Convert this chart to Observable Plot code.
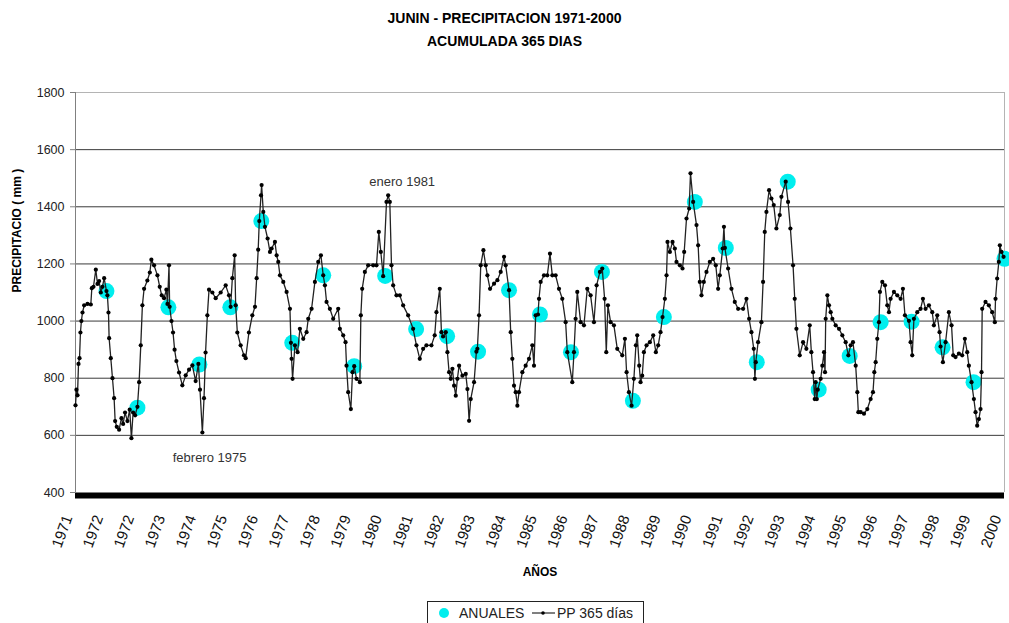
<!DOCTYPE html>
<html><head><meta charset="utf-8">
<script src="https://cdn.jsdelivr.net/npm/d3@7"></script>
<script src="https://cdn.jsdelivr.net/npm/@observablehq/plot@0.6"></script>
<style>
body{margin:0;background:#fff;font-family:"Liberation Sans",Arial,sans-serif;}
#wrap{position:relative;width:1009px;height:623px;overflow:hidden;background:#fff;}
.title{position:absolute;left:0;width:1009px;text-align:center;font-weight:bold;font-size:14px;color:#000;line-height:16px;}
#chart{position:absolute;left:0;top:52px;}
#legend{position:absolute;left:427px;top:601px;}
</style></head>
<body><div id="wrap">
<div class="title" style="top:10px">JUNIN - PRECIPITACION 1971-2000</div>
<div class="title" style="top:33px">ACUMULADA 365 DIAS</div>
<div id="chart"></div>
<div id="legend"></div>
</div>
<script>
// tick labels of the category axis (one every 365 days)
const xLabels = ["1971","1972","1972","1973","1974","1975","1976","1977","1978","1979","1980","1981","1982","1983","1984","1985","1986","1987","1988","1989","1990","1991","1992","1993","1994","1995","1996","1997","1998","1999","2000"];
const yTicks = [400,600,800,1000,1200,1400,1600,1800];

// ANUALES: annual totals (position = year index 1..30)
const annualT = [1,2,3,4,5,6,7,8,9,10,11,12,13,14,15,16,17,18,19,20,21,22,23,24,25,26,27,28,29,30];
const annualV = [1105,697,1048,848,1048,1350,924,1160,842,1158,972,947,893,1108,1023,891,1172,721,1014,1417,1256,856,1488,760,878,996,998,908,786,1218];

// PP 365 dias: running 365-day accumulation (position in years from start)
const lineT = [0.00,0.03,0.065,0.097,0.13,0.16,0.19,0.226,0.28,0.387,0.495,0.527,0.58,0.656,0.71,0.763,0.817,0.87,0.925,1.0,1.03,1.065,1.086,1.14,1.194,1.247,1.28,1.333,1.408,1.484,1.538,1.6,1.677,1.75,1.806,1.86,1.925,2.0,2.054,2.108,2.16,2.215,2.32,2.4,2.45,2.537,2.645,2.72,2.785,2.86,2.935,2.97,3.02,3.04,3.1,3.15,3.2,3.258,3.344,3.45,3.559,3.667,3.774,3.88,3.968,4.02,4.097,4.15,4.2,4.258,4.312,4.42,4.527,4.688,4.85,4.957,5.01,5.065,5.14,5.172,5.226,5.333,5.44,5.495,5.6,5.71,5.796,5.85,5.9,5.935,5.99,6.01,
6.064,6.118,6.204,6.28,6.333,6.44,6.495,6.548,6.602,6.71,6.817,6.925,6.957,6.978,7.01,7.086,7.172,7.247,7.355,7.462,7.516,7.624,7.731,7.839,7.925,8.0,8.054,8.107,8.215,8.322,8.484,8.537,8.645,8.72,8.752,8.806,8.892,8.946,9.0,9.075,9.183,9.215,9.258,9.344,9.451,9.613,9.72,9.795,9.86,9.935,10.043,10.097,10.15,10.204,10.258,10.365,10.473,10.58,10.742,10.903,11.01,11.118,11.226,11.333,11.494,11.6,11.656,11.763,11.817,11.87,
11.957,12.01,12.064,12.118,12.172,12.226,12.28,12.333,12.387,12.495,12.602,12.656,12.71,12.763,12.871,12.946,12.978,13.032,13.086,13.172,13.247,13.301,13.387,13.516,13.624,13.731,13.839,13.892,14.0,14.054,14.107,14.161,14.215,14.269,14.322,14.43,14.537,14.645,14.752,14.806,14.86,14.935,14.968,15.021,15.129,15.236,15.322,15.398,15.505,15.613,15.72,15.828,15.882,16.043,16.097,16.15,16.204,16.312,16.419,16.527,16.634,16.742,16.828,16.935,17.01,17.086,17.14,17.193,17.28,17.387,17.495,17.656,17.742,17.796,17.871,
17.957,18.032,18.097,18.14,18.204,18.247,18.301,18.355,18.441,18.548,18.656,18.742,18.817,18.892,18.957,19.032,19.086,19.118,19.194,19.28,19.355,19.408,19.516,19.602,19.656,19.731,19.817,19.86,19.946,20.054,20.107,20.161,20.215,20.29,20.376,20.484,20.591,20.677,20.752,20.806,20.9,20.94,20.97,21.075,21.183,21.29,21.398,21.559,21.667,21.753,21.828,21.903,21.94,21.968,22.043,22.15,22.204,22.258,22.312,22.398,22.473,22.548,22.634,22.742,22.796,22.935,23.01,23.086,23.172,23.226,23.28,23.387,23.495,23.602,23.71,23.763,23.817,23.871,
23.903,23.94,23.97,24.064,24.118,24.172,24.204,24.226,24.28,24.333,24.387,24.441,24.548,24.656,24.763,24.871,24.957,25.032,25.107,25.194,25.247,25.28,25.355,25.462,25.57,25.677,25.753,25.796,25.839,25.892,25.946,25.978,26.054,26.14,26.215,26.269,26.322,26.43,26.537,26.645,26.72,26.785,26.914,26.968,27.021,27.075,27.183,27.29,27.366,27.451,27.559,27.667,27.72,27.828,27.903,27.935,28.011,28.097,28.204,28.29,28.344,28.419,28.527,28.634,28.72,28.796,28.849,28.935,29.011,29.065,29.118,29.172,29.226,29.258,29.28,29.387,29.495,29.602,29.688,29.71,29.763,29.817,29.85,29.903,29.97];
const lineV = [705,760,740,850,870,960,1000,1030,1055,1060,1058,1115,1120,1180,1130,1140,1100,1120,1150,1105,1090,1030,940,870,800,730,650,630,620,660,640,680,650,690,590,680,670,700,786,915,1055,1113,1142,1170,1215,1195,1160,1120,1090,1080,1110,1060,1195,1050,1000,960,900,860,820,775,810,830,845,790,850,760,610,730,890,1020,1110,1100,1080,1100,1125,1090,1050,1150,1230,1055,960,915,880,870,960,1020,1050,1150,1250,1350,1440,1476,
1382,1330,1289,1242,1254,1277,1230,1207,1160,1137,1102,1043,924,868,798,915,891,973,938,961,1008,1043,1137,1207,1230,1160,1125,1067,1043,1008,1043,973,950,926,844,751,692,821,842,798,786,1020,1113,1172,1195,1195,1195,1312,1242,1157,1417,1440,1417,1195,1125,1090,1090,1055,1020,973,915,868,903,915,915,950,1031,1113,961,946,
961,891,821,798,833,774,739,798,844,809,815,762,651,727,786,893,903,1020,1195,1248,1195,1160,1113,1131,1143,1172,1225,1195,1108,961,868,774,751,704,751,821,844,868,915,844,1020,1023,1078,1137,1160,1160,1236,1160,1160,1113,1078,996,891,786,891,1008,1102,996,985,1113,1090,996,1125,1172,1184,1078,891,1055,996,985,903,880,938,821,751,
704,798,915,950,844,786,809,891,915,926,950,891,915,961,1014,1078,1160,1277,1242,1277,1254,1207,1195,1184,1242,1359,1394,1517,1417,1336,1265,1137,1090,1137,1172,1207,1218,1195,1113,1160,1254,1330,1256,1184,1113,1067,1043,1043,1078,1008,961,903,798,856,926,996,1137,1312,1382,1458,1429,1406,1324,1371,1435,1488,1417,1324,1195,1078,973,880,926,903,985,891,821,727,
786,727,760,798,844,891,821,1008,1090,1055,1031,1008,985,973,950,926,880,915,926,844,751,681,681,676,692,727,751,821,856,938,996,1102,1137,1125,1055,1031,1078,1102,1090,1078,1113,1020,1001,926,880,1008,1031,1043,1078,1043,1055,1031,985,1020,961,911,856,926,1031,985,880,874,886,880,938,891,844,786,727,681,634,657,692,821,1043,1067,1055,1031,996,1078,1149,1207,1265,1242,1225];

// annotations
const noteText = ["enero 1981","febrero 1975"];
const noteT = [10.55, 4.33];
const noteV = [1488, 521];

const lineData = lineT.map((t,i)=>({t, v: lineV[i]}));
const annual = annualT.map((t,i)=>({t, v: annualV[i]}));
const notes = noteText.map((s,i)=>({s, t: noteT[i], v: noteV[i]}));
const grid = yTicks.filter(d => d > 400 && d < 1800);

const plot = Plot.plot({
  width: 1009, height: 540,
  marginLeft: 75, marginRight: 5, marginTop: 40, marginBottom: 100,
  x: {domain: [0, 30], axis: null},
  y: {domain: [400, 1800], axis: null},
  style: {fontFamily: "'Liberation Sans', Arial, sans-serif", background: "transparent", overflow: "visible", color: "#222"},
  marks: [
    Plot.ruleY(grid, {stroke: "#3a3a3a", strokeWidth: 1}),
    Plot.ruleY([1800], {stroke: "#b4b4b4", strokeWidth: 1}),
    Plot.ruleX([30], {stroke: "#b4b4b4", strokeWidth: 1}),
    Plot.ruleX([0], {stroke: "#808080", strokeWidth: 1}),
    Plot.axisY({ticks: yTicks, tickFormat: d => String(d), tickSize: 5, tickPadding: 6, stroke: "#808080", fill: "#222", fontSize: 12.5, label: null}),
    Plot.text(xLabels, {x: (d,i) => i, text: d => d, frameAnchor: "bottom", rotate: -70, textAnchor: "end", dy: 25, dx: -3, fontSize: 15, fill: "#111"}),
    Plot.dot(annual, {x: "t", y: "v", r: 8, fill: "#00eeee", stroke: null}),
    Plot.line(lineData, {x: "t", y: "v", stroke: "#222", strokeWidth: 1.3}),
    Plot.dot(lineData, {x: "t", y: "v", r: 2.1, fill: "#000", stroke: null}),
    Plot.ruleY([400], {stroke: "#000", strokeWidth: 6, dy: 3}),
    Plot.text(notes, {x: "t", y: "v", text: "s", fontSize: 13, fill: "#333"}),
    Plot.text(["PRECIPITACIO ( mm )"], {frameAnchor: "left", rotate: -90, dx: -58, fontWeight: "bold", fontSize: 12, fill: "#000"}),
    Plot.text(["AÑOS"], {frameAnchor: "bottom", dy: 83, fontWeight: "bold", fontSize: 12, fill: "#000"})
  ]
});
document.getElementById("chart").appendChild(plot);

// legend
const lg = d3.select("#legend").append("svg").attr("width", 218).attr("height", 24)
  .style("font-family", "'Liberation Sans', Arial, sans-serif");
lg.append("rect").attr("x", 0.5).attr("y", 0.5).attr("width", 216).attr("height", 30).attr("fill", "#fff").attr("stroke", "#222");
lg.append("circle").attr("cx", 17).attr("cy", 12).attr("r", 5).attr("fill", "#00eeee");
lg.append("text").attr("x", 32).attr("y", 17).attr("font-size", 14).attr("fill", "#222").text("ANUALES");
lg.append("line").attr("x1", 105).attr("x2", 128).attr("y1", 12).attr("y2", 12).attr("stroke", "#000");
lg.append("circle").attr("cx", 116).attr("cy", 12).attr("r", 1.8).attr("fill", "#000");
lg.append("text").attr("x", 130).attr("y", 17).attr("font-size", 14).attr("fill", "#222").text("PP 365 días");
</script>
</body></html>
